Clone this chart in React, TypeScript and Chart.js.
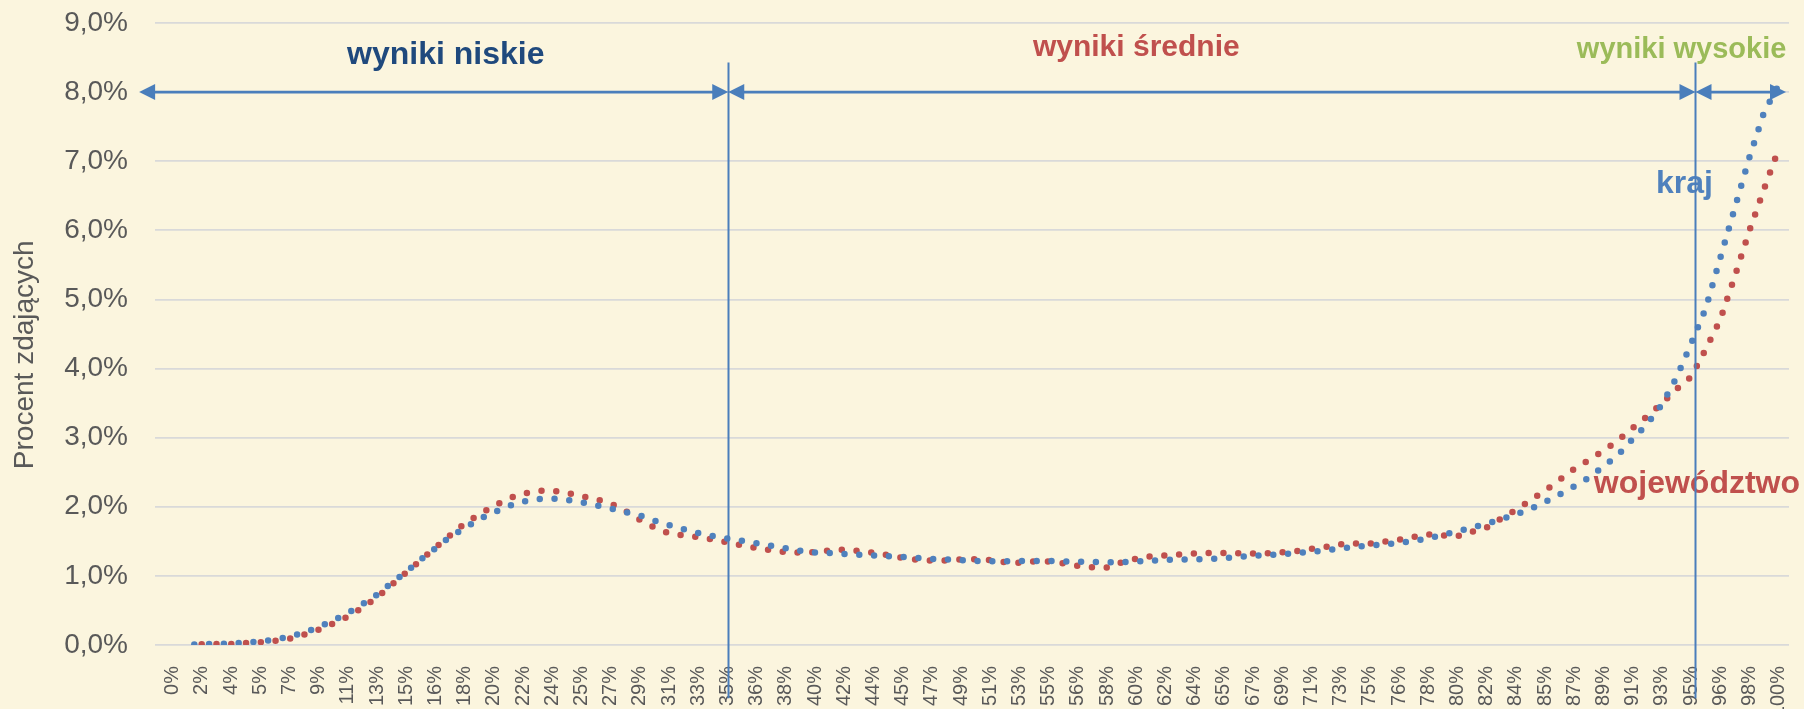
import React, { useEffect, useRef } from 'react';
import { Chart, registerables } from 'chart.js';

Chart.register(...registerables);

// Category labels (percent of max score), one per score point 0..110
const X_LABELS = [
  '0%', '1%', '2%', '3%', '4%', '5%', '5%', '6%', '7%', '8%', '9%',
  '10%', '11%', '12%', '13%', '14%', '15%', '15%', '16%', '17%', '18%', '19%',
  '20%', '21%', '22%', '23%', '24%', '25%', '25%', '26%', '27%', '28%', '29%',
  '30%', '31%', '32%', '33%', '34%', '35%', '35%', '36%', '37%', '38%', '39%',
  '40%', '41%', '42%', '43%', '44%', '45%', '45%', '46%', '47%', '48%', '49%',
  '50%', '51%', '52%', '53%', '54%', '55%', '55%', '56%', '57%', '58%', '59%',
  '60%', '61%', '62%', '63%', '64%', '65%', '65%', '66%', '67%', '68%', '69%',
  '70%', '71%', '72%', '73%', '74%', '75%', '75%', '76%', '77%', '78%', '79%',
  '80%', '81%', '82%', '83%', '84%', '85%', '85%', '86%', '87%', '88%', '89%',
  '90%', '91%', '92%', '93%', '94%', '95%', '95%', '96%', '97%', '98%', '99%',
  '100%',
];

// Series values, % of test takers
const KRAJ = [
  null, 0.005, 0.012, 0.014, 0.02, 0.035, 0.05, 0.08, 0.12, 0.18, 0.26,
  0.355, 0.46, 0.59, 0.73, 0.9, 1.06, 1.24, 1.4, 1.565, 1.69, 1.82,
  1.92, 2.01, 2.075, 2.11, 2.12, 2.1, 2.065, 2.02, 1.975, 1.925, 1.875,
  1.8, 1.735, 1.675, 1.62, 1.575, 1.54, 1.507, 1.47, 1.435, 1.4, 1.363,
  1.34, 1.33, 1.317, 1.307, 1.296, 1.286, 1.275, 1.26, 1.247, 1.237, 1.227,
  1.215, 1.21, 1.212, 1.217, 1.217, 1.217, 1.21, 1.207, 1.2, 1.197, 1.197,
  1.207, 1.22, 1.23, 1.236, 1.24, 1.245, 1.257, 1.275, 1.29, 1.3, 1.315,
  1.328, 1.35, 1.37, 1.395, 1.42, 1.44, 1.455, 1.477, 1.505, 1.545, 1.595,
  1.645, 1.7, 1.757, 1.82, 1.89, 1.97, 2.07, 2.18, 2.295, 2.42, 2.585,
  2.75, 2.98, 3.2, 3.48, 3.87, 4.36, 4.87, 5.6, 6.33, 7.06, 7.71,
  8.1,
];

const WOJEWODZTWO = [
  null, 0.005, 0.01, 0.013, 0.015, 0.03, 0.04, 0.06, 0.09, 0.15, 0.22,
  0.31, 0.41, 0.54, 0.69, 0.87, 1.05, 1.23, 1.41, 1.585, 1.76, 1.89,
  2.01, 2.12, 2.19, 2.23, 2.235, 2.2, 2.155, 2.11, 2.05, 1.94, 1.81,
  1.7, 1.615, 1.587, 1.56, 1.527, 1.485, 1.443, 1.4, 1.37, 1.343, 1.335,
  1.345, 1.367, 1.38, 1.36, 1.335, 1.3, 1.26, 1.235, 1.22, 1.225, 1.24,
  1.24, 1.23, 1.2, 1.19, 1.21, 1.21, 1.18, 1.145, 1.125, 1.12, 1.195,
  1.25, 1.285, 1.295, 1.31, 1.325, 1.33, 1.333, 1.328, 1.323, 1.328, 1.34,
  1.36, 1.39, 1.42, 1.458, 1.468, 1.468, 1.497, 1.525, 1.564, 1.598, 1.585,
  1.574, 1.64, 1.7, 1.83, 1.955, 2.095, 2.235, 2.39, 2.55, 2.677, 2.81,
  2.96, 3.14, 3.31, 3.495, 3.7, 3.88, 4.28, 4.71, 5.34, 6.0, 6.6,
  7.18,
];

// Band dividers (in category units) and arrow level (value units)
const DIVIDERS = [38.05, 104.3];
const ARROW_SPANS = [
  [-2.3, 38.05],
  [38.05, 104.3],
  [104.3, 110.5],
];
const ARROW_LEVEL = 8;

// Text annotations: x in category units, y in value units (baseline)
const NOTES = [
  { text: 'wyniki niskie', x: 18.7, y: 8.41, color: '#1F497D', size: 32 },
  { text: 'wyniki średnie', x: 66.0, y: 8.52, color: '#C0504D', size: 30 },
  { text: 'wyniki wysokie', x: 103.35, y: 8.5, color: '#9BBB59', size: 29 },
  { text: 'kraj', x: 103.55, y: 6.54, color: '#4F81BD', size: 32 },
  { text: 'województwo', x: 104.4, y: 2.2, color: '#C0504D', size: 32 },
];

const Y_TITLE = 'Procent zdających';
const FONT = '"Liberation Sans", Arial, Helvetica, sans-serif';
const BG = '#FBF5DE';
const LINE_COLOR = '#4A7EBB';
const TEXT_GREY = '#595959';

const overlayPlugin = {
  id: 'overlay',
  beforeDraw(chart: any) {
    const { ctx, width, height } = chart;
    ctx.save();
    ctx.fillStyle = BG;
    ctx.fillRect(0, 0, width, height);
    ctx.restore();
  },
  afterDraw(chart: any) {
    const { ctx } = chart;
    const xs = chart.scales.x;
    const ys = chart.scales.y;
    ctx.save();

    // y axis title
    ctx.save();
    ctx.translate(25, ys.getPixelForValue(4.2));
    ctx.rotate(-Math.PI / 2);
    ctx.font = `28px ${FONT}`;
    ctx.fillStyle = TEXT_GREY;
    ctx.textAlign = 'center';
    ctx.textBaseline = 'middle';
    ctx.fillText(Y_TITLE, 0, 0);
    ctx.restore();

    // notes
    for (const n of NOTES) {
      ctx.font = `bold ${n.size}px ${FONT}`;
      ctx.fillStyle = n.color;
      ctx.textAlign = 'center';
      ctx.textBaseline = 'alphabetic';
      ctx.fillText(n.text, xs.getPixelForValue(n.x), ys.getPixelForValue(n.y));
    }

    // dividers
    ctx.strokeStyle = LINE_COLOR;
    ctx.lineWidth = 2;
    const top = ys.getPixelForValue(8.43);
    const bottom = ys.getPixelForValue(-0.77);
    for (const d of DIVIDERS) {
      const px = Math.round(xs.getPixelForValue(d)) + 0.5;
      ctx.beginPath();
      ctx.moveTo(px, top);
      ctx.lineTo(px, bottom);
      ctx.stroke();
    }

    // double arrows
    const ay = ys.getPixelForValue(ARROW_LEVEL);
    const headL = 16;
    const headW = 8;
    ctx.fillStyle = LINE_COLOR;
    ctx.lineWidth = 2.6;
    for (const [a, b] of ARROW_SPANS) {
      const x1 = xs.getPixelForValue(a);
      const x2 = xs.getPixelForValue(b);
      ctx.beginPath();
      ctx.moveTo(x1 + headL - 2, ay);
      ctx.lineTo(x2 - headL + 2, ay);
      ctx.stroke();
      ctx.beginPath();
      ctx.moveTo(x1, ay);
      ctx.lineTo(x1 + headL, ay - headW);
      ctx.lineTo(x1 + headL, ay + headW);
      ctx.closePath();
      ctx.fill();
      ctx.beginPath();
      ctx.moveTo(x2, ay);
      ctx.lineTo(x2 - headL, ay - headW);
      ctx.lineTo(x2 - headL, ay + headW);
      ctx.closePath();
      ctx.fill();
    }
    ctx.restore();
  },
};

export default function App() {
  const ref = useRef<HTMLCanvasElement | null>(null);

  useEffect(() => {
    document.body.style.margin = '0';
    const canvas = ref.current;
    if (!canvas) return;
    const tickIdx = X_LABELS.map((_, i) => i).filter((i) => i % 2 === 0);
    const chart = new Chart(canvas, {
      type: 'line',
      data: {
        datasets: [
          {
            label: 'kraj',
            data: KRAJ.map((v, i) => ({ x: i, y: v })),
            borderColor: '#4F81BD',
            borderWidth: 6.5,
            borderDash: [0, 14.8],
            borderDashOffset: -7,
            borderCapStyle: 'round',
            pointRadius: 0,
            fill: false,
            tension: 0,
          },
          {
            label: 'województwo',
            data: WOJEWODZTWO.map((v, i) => ({ x: i, y: v })),
            borderColor: '#C0504D',
            borderWidth: 6.5,
            borderDash: [0, 14.8],
            borderDashOffset: 0.4,
            borderCapStyle: 'round',
            pointRadius: 0,
            fill: false,
            tension: 0,
          },
        ],
      } as any,
      options: {
        responsive: false,
        animation: false,
        devicePixelRatio: 1,
        layout: { padding: { top: 23, right: 15, left: 0, bottom: 0 } },
        plugins: { legend: { display: false }, tooltip: { enabled: false } },
        scales: {
          x: {
            type: 'linear',
            min: -1.212,
            max: 110.705,
            grid: { display: false },
            border: { display: false },
            afterBuildTicks: (s: any) => {
              s.ticks = tickIdx.map((v) => ({ value: v }));
            },
            afterFit: (s: any) => {
              s.height = 64;
              s.paddingLeft = 0;
              s.paddingRight = 0;
            },
            ticks: {
              autoSkip: false,
              minRotation: 90,
              maxRotation: 90,
              padding: 13,
              color: TEXT_GREY,
              font: { family: FONT, size: 20 },
              callback: (v: any) => X_LABELS[v as number],
            },
          },
          y: {
            min: 0,
            max: 9,
            grid: { color: '#D9D9D9', lineWidth: 1.75, drawTicks: false },
            border: { display: false },
            afterFit: (s: any) => {
              s.width = 155;
              s.paddingTop = 0;
              s.paddingBottom = 0;
            },
            ticks: {
              stepSize: 1,
              padding: 27,
              color: TEXT_GREY,
              font: { family: FONT, size: 28 },
              callback: (v: any) => Number(v).toFixed(1).replace('.', ',') + '%',
            },
          },
        },
      } as any,
      plugins: [overlayPlugin],
    });
    return () => chart.destroy();
  }, []);

  return (
    <div style={{ width: 1804, height: 709 }}>
      <canvas ref={ref} width={1804} height={709} style={{ display: 'block' }} />
    </div>
  );
}
